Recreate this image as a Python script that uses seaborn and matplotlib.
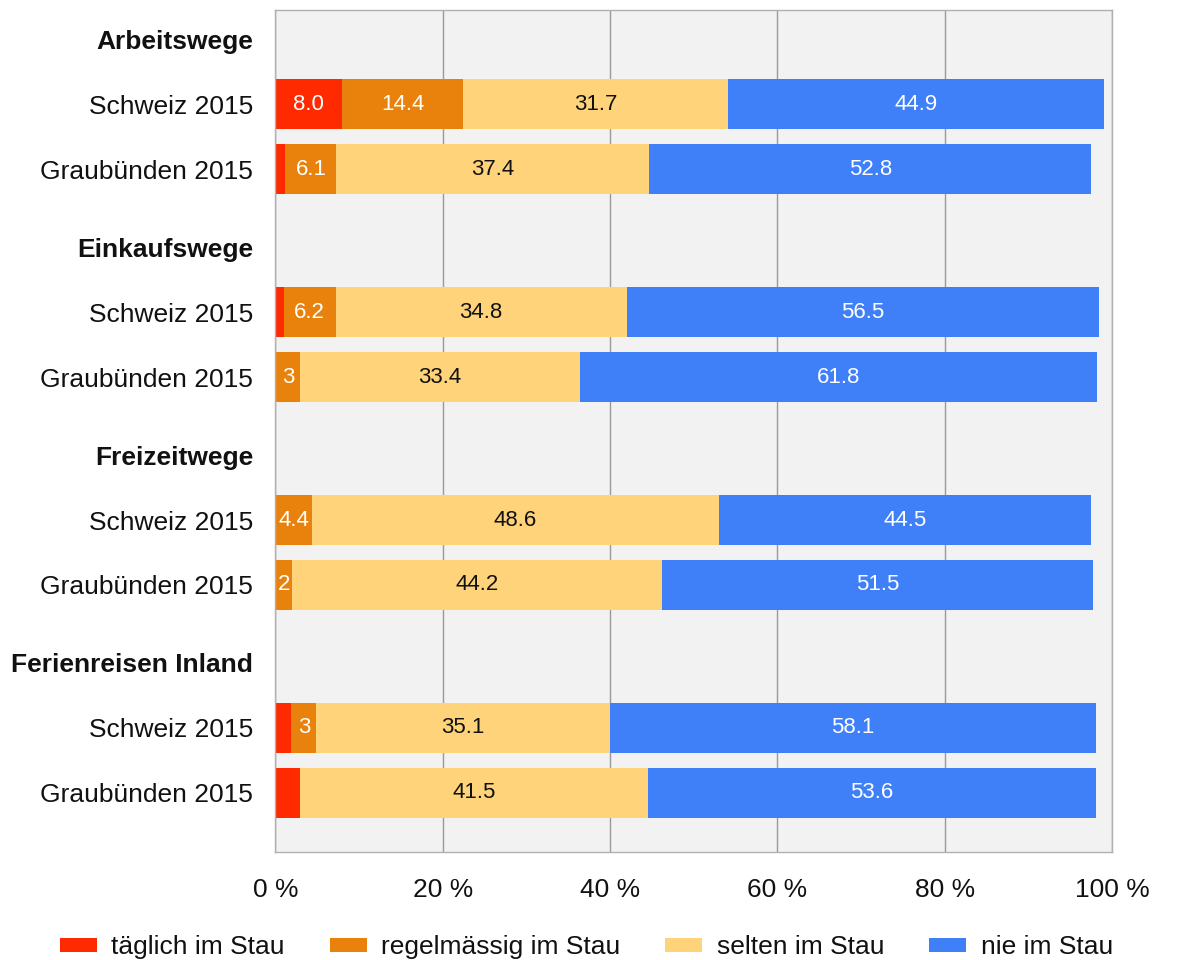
import matplotlib
matplotlib.use("Agg")
import matplotlib.pyplot as plt
from matplotlib.patches import Patch
import pandas as pd
import seaborn as sns

# Data (percent), rows in order: Schweiz / Graubünden for each purpose
groups = ["Arbeitswege", "Einkaufswege", "Freizeitwege", "Ferienreisen Inland"]
regions = ["Schweiz 2015", "Graubünden 2015"]
series = ["täglich im Stau", "regelmässig im Stau", "selten im Stau", "nie im Stau"]

taeglich = [8.0, 1.2, 1.0, 0.0, 0.0, 0.0, 1.9, 3.0]
regelmaessig = [14.4, 6.1, 6.2, 3.0, 4.4, 2.0, 3.0, 0.0]
selten = [31.7, 37.4, 34.8, 33.4, 48.6, 44.2, 35.1, 41.5]
nie = [44.9, 52.8, 56.5, 61.8, 44.5, 51.5, 58.1, 53.6]

lab_taeglich = ["8.0", "", "", "", "", "", "", ""]
lab_regelmaessig = ["14.4", "6.1", "6.2", "3", "4.4", "2", "3", ""]
lab_selten = ["31.7", "37.4", "34.8", "33.4", "48.6", "44.2", "35.1", "41.5"]
lab_nie = ["44.9", "52.8", "56.5", "61.8", "44.5", "51.5", "58.1", "53.6"]

x_ticks = [0, 20, 40, 60, 80, 100]

colors = ["#ff2a00", "#e8820c", "#fed37a", "#3f7ff8"]
label_colors = ["white", "white", "#111111", "white"]

# layout of the rows: header, then two bars per group
group_step = 3.2
header_pos = [g * group_step for g in range(len(groups))]
bar_pos = [h + k for h in header_pos for k in (1, 2)]

df = pd.DataFrame({
    "pos": bar_pos,
    "row": regions * len(groups),
    series[0]: taeglich,
    series[1]: regelmaessig,
    series[2]: selten,
    series[3]: nie,
})
cum = df[series].cumsum(axis=1)
for s in series:
    df["cum_" + s] = cum[s]

sns.set_style("white")
plt.rcParams["font.family"] = ["Liberation Sans", "DejaVu Sans"]

fig = plt.figure(figsize=(11.86, 9.6), dpi=100)
ax = fig.add_axes([0.2322, 0.1125, 0.7054, 0.8771])
ax.set_facecolor("#f2f2f2")

# stacked bars: draw cumulative totals from the largest down
for s, c in reversed(list(zip(series, colors))):
    sns.barplot(data=df, x="cum_" + s, y="pos", orient="y", native_scale=True,
                color=c, saturation=1, width=0.77, errorbar=None,
                linewidth=0, ax=ax)

# value labels
all_labels = [lab_taeglich, lab_regelmaessig, lab_selten, lab_nie]
for i, s in enumerate(series):
    left = df["cum_" + s] - df[s]
    for j in range(len(df)):
        txt = all_labels[i][j]
        if txt:
            ax.text(left[j] + df[s][j] / 2, df["pos"][j], txt, ha="center",
                    va="center", fontsize=16, color=label_colors[i])

ax.set_xlim(0, 100)
ax.set_ylim(header_pos[-1] + 2 + 0.91, -0.45)
ax.set_xticks(x_ticks)
ax.set_xticklabels([f"{t} %" for t in x_ticks], fontsize=19)

yt = header_pos + bar_pos
yl = groups + regions * len(groups)
ax.set_yticks(yt)
ax.set_yticklabels(yl, fontsize=19)
for lbl in ax.get_yticklabels():
    if lbl.get_text() in groups:
        lbl.set_fontweight("bold")

ax.tick_params(axis="x", length=0, pad=19, colors="#111111")
ax.tick_params(axis="y", length=0, pad=16, colors="#111111")
ax.set_xlabel("")
ax.set_ylabel("")

ax.set_axisbelow(True)
ax.xaxis.grid(True, color="#9a9a9a", linewidth=1)
ax.yaxis.grid(False)
for sp in ax.spines.values():
    sp.set_visible(True)
    sp.set_color("#b0b0b0")
    sp.set_linewidth(1)

handles = [Patch(facecolor=c, edgecolor="none") for c in colors]
fig.legend(handles, series, loc="center", bbox_to_anchor=(0.4945, 0.0135),
           ncol=4, frameon=False, fontsize=19, handlelength=1.4,
           handleheight=0.45, handletextpad=0.55, columnspacing=1.7,
           labelcolor="#111111")

fig.savefig("out.png", dpi=100)
